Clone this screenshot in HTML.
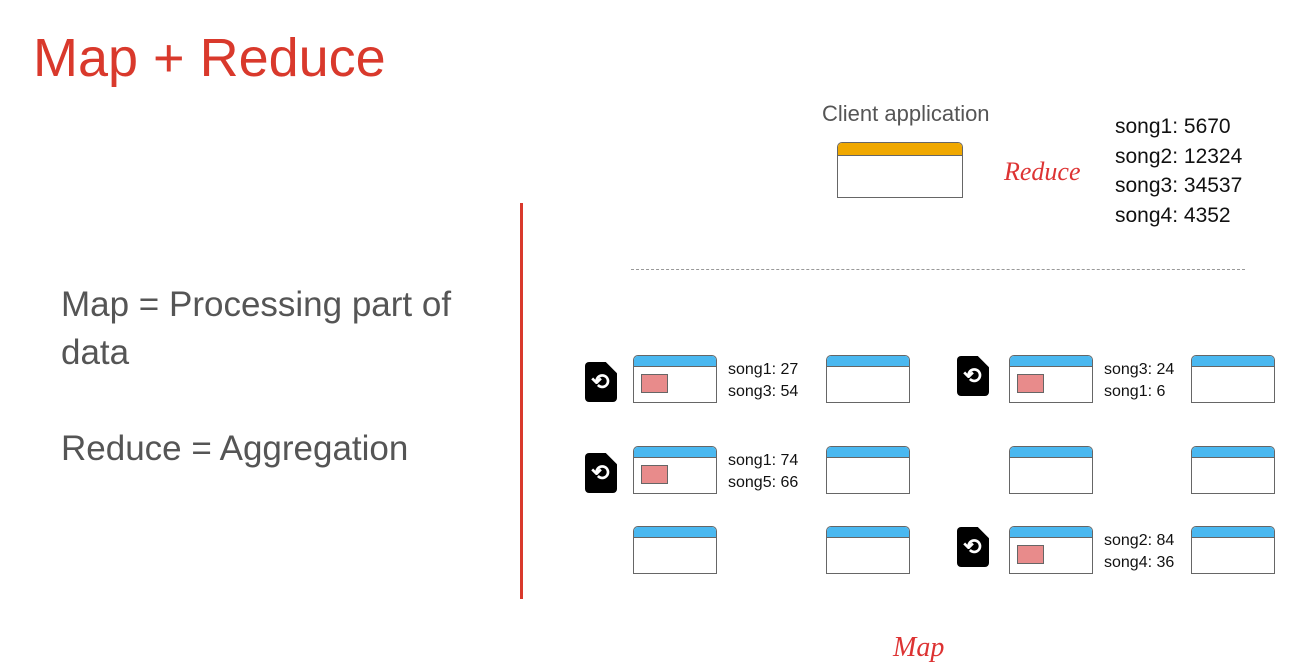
<!DOCTYPE html>
<html><head><meta charset="utf-8"><style>
body{margin:0;width:1310px;height:671px;background:#fff;position:relative;overflow:hidden;font-family:"Liberation Sans",sans-serif}
.a{position:absolute}
.box{position:absolute;width:82px;height:46px;border:1.5px solid #666;border-radius:5px 5px 0 0;background:#fff;overflow:hidden}
.box .h{height:10px;background:#4ab8f0;border-bottom:1.5px solid #666}
.box .p{position:absolute;left:7px;top:18px;width:25px;height:17px;background:#e88b8b;border:1.5px solid #666}
.ic{position:absolute;width:32px;height:40px;background:#000;border-radius:4px;clip-path:polygon(0 0,65% 0,100% 28%,100% 100%,0 100%)}
.ic span{position:absolute;left:6px;top:9px;color:#fff;font-size:22px;font-weight:bold;line-height:22px}
.t{position:absolute;font-size:16px;line-height:22px;color:#111}
.cur{position:absolute;color:#d33;font-family:"Liberation Serif",serif;font-style:italic}
</style></head><body>
<div class="a" style="left:33px;top:23px;font-size:54px;color:#d9392c;line-height:70px">Map + Reduce</div>
<div class="a" style="left:61px;top:281px;font-size:35px;color:#555;line-height:48px">Map = Processing part of<br>data</div>
<div class="a" style="left:61px;top:425px;font-size:35px;color:#555;line-height:48px">Reduce = Aggregation</div>
<div class="a" style="left:520px;top:203px;width:3px;height:396px;background:#d9392c"></div>
<div class="a" style="left:631px;top:269px;width:614px;border-top:1.5px dashed #999"></div>
<div class="a" style="left:822px;top:101px;font-size:22px;color:#555">Client application</div>
<div class="box" style="left:837px;top:142px;width:124px;height:54px"><div class="h" style="background:#f0a800;height:12px"></div></div>
<div class="cur" style="left:1004px;top:157px;font-size:26px">Reduce</div>
<div class="a" style="left:1115px;top:112px;font-size:21px;line-height:29.7px;color:#111">song1: 5670<br>song2: 12324<br>song3: 34537<br>song4: 4352</div>
<div class="cur" style="left:893px;top:632px;font-size:28px">Map</div>

<div class="ic" style="left:585px;top:362px"><span>⟲</span></div>
<div class="ic" style="left:957px;top:356px"><span>⟲</span></div>
<div class="ic" style="left:585px;top:453px"><span>⟲</span></div>
<div class="ic" style="left:957px;top:527px"><span>⟲</span></div>

<div class="box" style="left:633px;top:355px"><div class="h"></div><div class="p"></div></div>
<div class="box" style="left:826px;top:355px"><div class="h"></div></div>
<div class="box" style="left:1009px;top:355px"><div class="h"></div><div class="p"></div></div>
<div class="box" style="left:1191px;top:355px"><div class="h"></div></div>
<div class="box" style="left:633px;top:446px"><div class="h"></div><div class="p"></div></div>
<div class="box" style="left:826px;top:446px"><div class="h"></div></div>
<div class="box" style="left:1009px;top:446px"><div class="h"></div></div>
<div class="box" style="left:1191px;top:446px"><div class="h"></div></div>
<div class="box" style="left:633px;top:526px"><div class="h"></div></div>
<div class="box" style="left:826px;top:526px"><div class="h"></div></div>
<div class="box" style="left:1009px;top:526px"><div class="h"></div><div class="p"></div></div>
<div class="box" style="left:1191px;top:526px"><div class="h"></div></div>

<div class="t" style="left:728px;top:359px">song1: 27<br>song3: 54</div>
<div class="t" style="left:1104px;top:359px">song3: 24<br>song1: 6</div>
<div class="t" style="left:728px;top:450px">song1: 74<br>song5: 66</div>
<div class="t" style="left:1104px;top:530px">song2: 84<br>song4: 36</div>
</body></html>
